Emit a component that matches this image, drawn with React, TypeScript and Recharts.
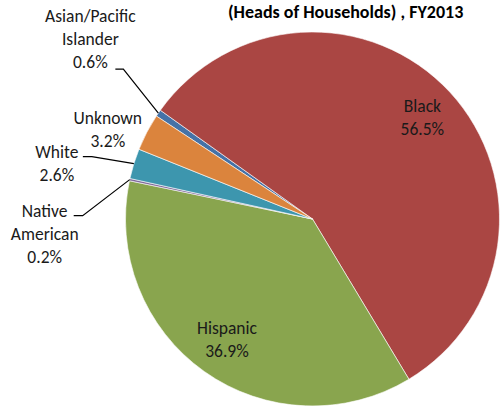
import { Pie, PieChart, Cell } from "recharts"

document.body.style.margin = "0"

const categories = ["Asian/Pacific Islander", "Black", "Hispanic", "Native American", "White", "Unknown"]
const shares = [0.6, 56.5, 36.9, 0.2, 2.6, 3.2]
const labelText = [["Asian/Pacific", "Islander"], ["Black"], ["Hispanic"], ["Native", "American"], ["White"], ["Unknown"]]

const COLORS = ["#4572A7", "#AA4643", "#89A54E", "#80699B", "#3D96AE", "#DB843D"]
const FONT = "Carlito, Calibri, Lato, sans-serif"
const LINE_H = 23
const RAD = Math.PI / 180

// label placement relative to the point where the slice's mid angle meets the rim
type Place = { inside?: number; dx?: number; dy?: number; leader?: [number, number][] }
const PLACES: Place[] = [
  { dx: -68, dy: -74, leader: [[-35, -44], [-43, -44]] },
  { inside: 0.8 },
  { inside: 0.79 },
  { dx: -85, dy: 54, leader: [[-47, 36], [-56, 36]] },
  { dx: -77, dy: 0, leader: [[-42, -7], [-51, -7]] },
  { dx: -39, dy: -3 },
]

const data = categories.map((name, i) => ({ name, value: shares[i], lines: labelText[i] }))

function renderLabel(props: any) {
  const { cx, cy, midAngle, outerRadius, index, payload } = props
  const place = PLACES[index]
  const cos = Math.cos(-midAngle * RAD)
  const sin = Math.sin(-midAngle * RAD)
  let tx: number
  let ty: number
  const ex = cx + outerRadius * cos
  const ey = cy + outerRadius * sin
  if (place.inside) {
    tx = cx + outerRadius * place.inside * cos
    ty = cy + outerRadius * place.inside * sin
  } else {
    tx = ex + (place.dx ?? 0)
    ty = ey + (place.dy ?? 0)
  }
  const lines = [...(payload.lines ?? labelText[index]), `${payload.value.toFixed(1)}%`]
  const top = ty - ((lines.length - 1) * LINE_H) / 2
  const pts = place.leader ? [[ex, ey], ...place.leader.map(([a, b]) => [ex + a, ey + b])] : null
  return (
    <g key={`lbl-${index}`}>
      {pts && (
        <polyline
          points={pts.map((p) => p.join(",")).join(" ")}
          fill="none"
          stroke="#000"
          strokeWidth={1.2}
        />
      )}
      <text x={tx} y={top} textAnchor="middle" fontFamily={FONT} fontSize={17.5} fill="#1a1a1a">
        {lines.map((l, k) => (
          <tspan key={k} x={tx} y={top + k * LINE_H} dominantBaseline="central">
            {l}
          </tspan>
        ))}
      </text>
    </g>
  )
}

export default function App() {
  return (
    <div style={{ position: "relative", width: 500, height: 408, background: "#fff" }}>
      <div
        style={{
          position: "absolute",
          left: 228,
          top: 1,
          fontFamily: FONT,
          fontWeight: 700,
          fontSize: 18,
          whiteSpace: "nowrap",
          color: "#000",
        }}
      >
        (Heads of Households) , FY2013
      </div>
      <PieChart width={500} height={408} margin={{ top: 0, right: 0, bottom: 0, left: 0 }}>
        <Pie
          data={data}
          dataKey="value"
          nameKey="name"
          cx={312.5}
          cy={219}
          outerRadius={187}
          startAngle={146.6}
          endAngle={-213.4}
          stroke="#ffffff"
          strokeWidth={0.6}
          label={renderLabel}
          labelLine={false}
          isAnimationActive={false}
        >
          {data.map((entry, index) => (
            <Cell key={entry.name} fill={COLORS[index]} />
          ))}
        </Pie>
      </PieChart>
    </div>
  )
}
